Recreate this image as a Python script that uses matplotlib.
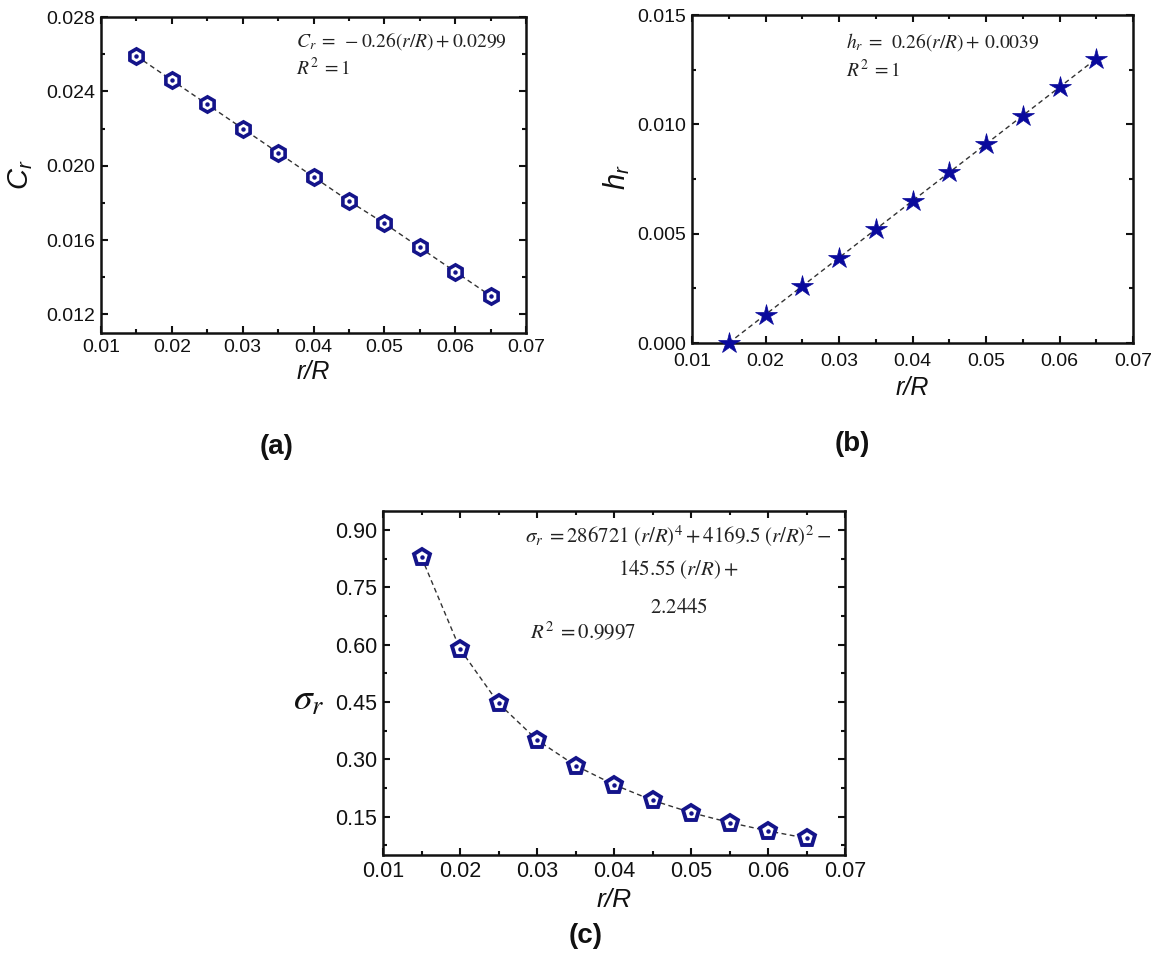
import numpy as np
import matplotlib
matplotlib.use('Agg')
import matplotlib.pyplot as plt
from matplotlib.ticker import MultipleLocator, FormatStrFormatter

# ---------------- data ----------------
r_R = [0.015, 0.020, 0.025, 0.030, 0.035, 0.040, 0.045, 0.050, 0.055, 0.060, 0.065]
C_r = [0.0259, 0.0246, 0.0233, 0.0220, 0.0207, 0.0194, 0.0181, 0.0169, 0.0156, 0.0143, 0.0130]
h_r = [0.0000, 0.0013, 0.0026, 0.0039, 0.0052, 0.0065, 0.0078, 0.0091, 0.0104, 0.0117, 0.0130]
sigma_r = [0.829, 0.589, 0.447, 0.351, 0.284, 0.234, 0.193, 0.161, 0.135, 0.113, 0.094]

eq_a = [r'$C_r\;=\;-0.26(r/R)+0.0299$', r'$R^2\;=1$']
eq_b = [r'$h_r\;=\;\,0.26(r/R)+\,0.0039$', r'$R^2\;=1$']
eq_c = [r'$\sigma_r\;=286721\;(r/R)^4+4169.5\;(r/R)^2-$',
        r'$145.55\;(r/R)+$', r'$2.2445$', r'$R^2\;=0.9997$']
panel_labels = ['(a)', '(b)', '(c)']

# ---------------- style ----------------
plt.rcParams['font.family'] = ['Liberation Sans', 'DejaVu Sans']
plt.rcParams['mathtext.fontset'] = 'custom'
plt.rcParams['mathtext.rm'] = 'Liberation Sans'
plt.rcParams['mathtext.it'] = 'Liberation Sans:italic'
plt.rcParams['axes.unicode_minus'] = True

W, H = 1160, 960
fig = plt.figure(figsize=(W / 100, H / 100), dpi=100)
fig.patch.set_facecolor('white')

NAVY = '#14148a'
STAR = '#0a0a9c'


def px_axes(l, t, r, b):
    return fig.add_axes([l / W, 1 - b / H, (r - l) / W, (b - t) / H])


def ftext(x, y, s, **kw):
    fig.text(x / W, 1 - y / H, s, ha='center', va='center', **kw)


def style(ax, ylim, ymaj, ymin, yfmt, fs, xpad=4):
    ax.set_xlim(0.01, 0.07)
    ax.set_ylim(*ylim)
    ax.xaxis.set_major_locator(MultipleLocator(0.01))
    ax.xaxis.set_minor_locator(MultipleLocator(0.005))
    ax.yaxis.set_major_locator(MultipleLocator(ymaj))
    ax.yaxis.set_minor_locator(MultipleLocator(ymin))
    ax.xaxis.set_major_formatter(FormatStrFormatter('%.2f'))
    ax.yaxis.set_major_formatter(FormatStrFormatter(yfmt))
    ax.tick_params(which='both', direction='in', top=True, right=True,
                   width=1.5, labelsize=fs, colors='#111111')
    ax.tick_params(which='major', length=5, pad=4)
    ax.tick_params(axis='x', which='major', pad=xpad)
    ax.tick_params(which='minor', length=3)
    for s in ax.spines.values():
        s.set_linewidth(1.8)
        s.set_color('#111111')


dash_kw = dict(color='#333333', lw=1.0, ls=(0, (3.5, 2.5)), zorder=2)
eq_kw = dict(math_fontfamily='stix', color='#222222', va='center')

# ---------------- (a) ----------------
axa = px_axes(101, 17, 526, 333)
style(axa, (0.011, 0.028), 0.004, 0.002, '%.3f', 14)
axa.plot(r_R, C_r, **dash_kw)
axa.plot(r_R, C_r, ls='none', marker='h', ms=11, mfc='white', mec=NAVY, mew=2.6, zorder=3)
axa.plot(r_R, C_r, ls='none', marker='o', ms=2.2, mfc=NAVY, mec=NAVY, zorder=4)
axa.text(0.46, 0.925, eq_a[0], transform=axa.transAxes, fontsize=14, ha='left', **eq_kw)
axa.text(0.46, 0.84, eq_a[1], transform=axa.transAxes, fontsize=14, ha='left', **eq_kw)
ftext(21, 175, r'$C_r$', fontsize=21, rotation=90, color='#111111')
ftext(313, 372, 'r/R', fontsize=18, style='italic', color='#111111')

# ---------------- (b) ----------------
axb = px_axes(692, 15, 1133, 343)
style(axb, (0.0, 0.015), 0.005, 0.0025, '%.3f', 14, xpad=7)
axb.plot(r_R, h_r, **dash_kw)
axb.plot(r_R, h_r, ls='none', marker='*', ms=16, mfc=STAR, mec=STAR, mew=0.5,
         zorder=3, clip_on=False)
axb.text(0.35, 0.918, eq_b[0], transform=axb.transAxes, fontsize=14, ha='left', **eq_kw)
axb.text(0.35, 0.832, eq_b[1], transform=axb.transAxes, fontsize=14, ha='left', **eq_kw)
ftext(617, 177, r'$h_r$', fontsize=21, rotation=90, color='#111111')
ftext(912, 388, 'r/R', fontsize=18, style='italic', color='#111111')

# ---------------- (c) ----------------
axc = px_axes(383, 511, 845, 855)
style(axc, (0.05, 0.95), 0.15, 0.075, '%.2f', 15.5)
axc.plot(r_R, sigma_r, **dash_kw)
axc.plot(r_R, sigma_r, ls='none', marker='p', ms=12, mfc='white', mec=NAVY, mew=2.8, zorder=3)
axc.plot(r_R, sigma_r, ls='none', marker='o', ms=2.2, mfc=NAVY, mec=NAVY, zorder=4)
for (txt, x, y, ha) in [(eq_c[0], 0.64, 0.925, 'center'),
                        (eq_c[1], 0.64, 0.83, 'center'),
                        (eq_c[2], 0.64, 0.72, 'center'),
                        (eq_c[3], 0.318, 0.65, 'left')]:
    axc.text(x, y, txt, transform=axc.transAxes, fontsize=15, ha=ha, **eq_kw)
ftext(309, 700, r'$\sigma_r$', fontsize=27, math_fontfamily='stix', color='#111111')
ftext(614, 900, 'r/R', fontsize=19, style='italic', color='#111111')

# ---------------- panel labels ----------------
ftext(277, 447, panel_labels[0], fontsize=20, fontweight='bold', color='#111111')
ftext(852, 444, panel_labels[1], fontsize=20, fontweight='bold', color='#111111')
ftext(586, 936, panel_labels[2], fontsize=20, fontweight='bold', color='#111111')

fig.savefig('out.png', dpi=100, facecolor='white')
